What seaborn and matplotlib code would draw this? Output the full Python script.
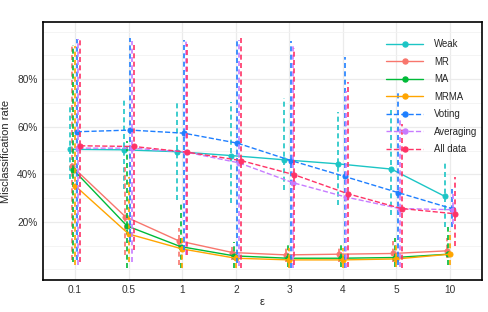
import numpy as np
import pandas as pd
import matplotlib
matplotlib.use("Agg")
import matplotlib.pyplot as plt
from matplotlib.lines import Line2D
from matplotlib.ticker import FuncFormatter
import seaborn as sns

# ---- data (percent) ----
eps = ["0.1", "0.5", "1", "2", "3", "4", "5", "10"]
series = ["Weak", "MR", "MA", "MRMA", "Voting", "Averaging", "All data"]

weak = [50.5, 50.3, 49.5, 47.9, 46.1, 44.4, 42.2, 30.7]
weak_lo = [38, 34, 29, 28, 33.5, 27, 23, 18]
weak_hi = [69, 71.4, 70.5, 70.5, 72, 66, 67, 45]

mr = [43.5, 22.2, 12.0, 7.1, 6.1, 6.4, 6.7, 7.8]
mr_lo = [4, 6, 2, 4, 3, 3, 3, 5]
mr_hi = [95, 43, 17.5, 9.5, 10, 10, 12, 13]

ma = [41.9, 18.3, 9.6, 5.7, 4.7, 4.7, 5.0, 6.4]
ma_lo = [3, 0.5, 0.5, 0.5, 1, 1, 1, 2]
ma_hi = [94.5, 54, 28, 11.6, 11, 11, 13, 18]

mrma = [35.2, 14.9, 8.6, 4.7, 4.0, 4.0, 4.4, 6.4]
mrma_lo = [2, 3, 0.6, 0.5, 0.5, 0.5, 1, 2]
mrma_hi = [94, 39, 13, 7.4, 9, 9, 11, 16]

voting = [57.9, 58.6, 57.3, 53.1, 45.8, 39.1, 32.3, 25.6]
voting_lo = [4, 11.6, 8, 2.7, 0.5, 0.6, 2, 18]
voting_hi = [97, 97.5, 96.6, 96.6, 96, 89.5, 74, 34]

averaging = [51.0, 51.0, 49.4, 44.8, 36.5, 30.4, 25.6, 25.1]
averaging_lo = [2, 3, 6, 1.5, 0.5, 0.5, 1, 19]
averaging_hi = [97, 96, 96, 96.5, 94, 75, 63, 33]

alldata = [52.0, 51.7, 49.3, 45.8, 39.8, 31.8, 25.6, 23.4]
alldata_lo = [3, 8, 6, 0.6, 2, 1, 0.6, 10]
alldata_hi = [97, 95, 95, 97.5, 93, 79, 61, 39]

colors = ["#1CC5C5", "#F8766D", "#00BA38", "#FFA500", "#1E7FFF", "#C77CFF", "#FF3366"]
linestyles = ["-", "-", "-", "-", "--", "--", "--"]

vals = [weak, mr, ma, mrma, voting, averaging, alldata]
los = [weak_lo, mr_lo, ma_lo, mrma_lo, voting_lo, averaging_lo, alldata_lo]
his = [weak_hi, mr_hi, ma_hi, mrma_hi, voting_hi, averaging_hi, alldata_hi]

rows = []
for s, v, lo, hi in zip(series, vals, los, his):
    for e, a, b, c in zip(eps, v, lo, hi):
        for x in (b, a, c):
            rows.append({"eps": e, "method": s, "rate": x / 100.0})
df = pd.DataFrame(rows)

sns.set_style("white")
plt.rcParams["font.family"] = ["Liberation Sans", "DejaVu Sans"]

fig = plt.figure(figsize=(4.88, 3.12), dpi=100)
ax = fig.add_axes([0.088, 0.103, 0.900, 0.826])

sns.pointplot(data=df, x="eps", y="rate", hue="method", order=eps,
              hue_order=series, palette=colors, estimator="median",
              errorbar=("pi", 100), dodge=0.19, linestyles=linestyles,
              markers="o", markersize=3.6, linewidth=1.0,
              err_kws={"linewidth": 1.2, "linestyle": (0, (3, 2))},
              legend=False, ax=ax)

ax.set_ylim(-0.044, 1.04)
ax.set_xlim(-0.6, 7.6)
ax.set_yticks([0.2, 0.4, 0.6, 0.8])
ax.set_yticks([0.0, 0.1, 0.3, 0.5, 0.7, 0.9, 1.0], minor=True)
ax.yaxis.set_major_formatter(FuncFormatter(lambda v, p: f"{v*100:.0f}%"))
ax.grid(True, which="major", color="#EBEBEB", linewidth=0.9)
ax.grid(True, which="minor", axis="y", color="#F2F2F2", linewidth=0.6)
ax.set_axisbelow(True)
ax.tick_params(axis="both", which="both", length=0, labelsize=7.3,
               labelcolor="#333333", pad=4)
for sp in ax.spines.values():
    sp.set_visible(True)
    sp.set_color("black")
    sp.set_linewidth(1.2)

ax.set_xlabel("ε", fontsize=8, labelpad=1)
ax.set_ylabel("Misclassification rate", fontsize=8, labelpad=4)

handles = [Line2D([0], [0], color=c, linestyle=ls, linewidth=1.0,
                  marker="o", markersize=3.6) for c, ls in zip(colors, linestyles)]
ax.legend(handles, series, loc="upper right", bbox_to_anchor=(1.004, 0.96),
          frameon=False, fontsize=6.9, handlelength=3.9, handletextpad=1.1,
          labelspacing=0.78, borderaxespad=0.3)

fig.savefig("out.png", dpi=100)
